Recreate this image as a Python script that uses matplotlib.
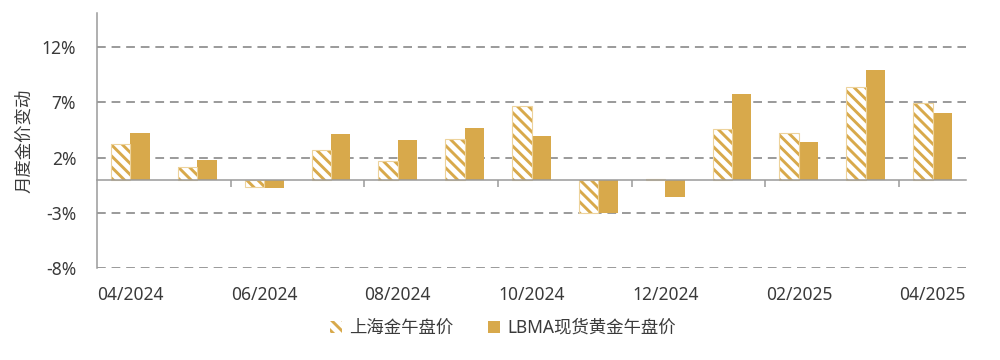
import matplotlib
matplotlib.use("Agg")
import matplotlib.pyplot as plt
from matplotlib.patches import Patch
import numpy as np

months = ["04/2024", "05/2024", "06/2024", "07/2024", "08/2024", "09/2024", "10/2024",
          "11/2024", "12/2024", "01/2025", "02/2025", "03/2025", "04/2025"]
shanghai = [3.25, 1.15, -0.7, 2.65, 1.7, 3.65, 6.7, -3.0, 0.05, 4.55, 4.27, 8.4, 6.95]
lbma = [4.2, 1.8, -0.75, 4.1, 3.6, 4.65, 3.95, -3.0, -1.6, 7.8, 3.4, 9.95, 6.0]
yticks = [-8, -3, 2, 7, 12]
series_names = ["上海金午盘价", "LBMA现货黄金午盘价"]

GOLD = "#D8A94B"
EDGE = "#EDD39C"
GRID = "#9A9A9A"
TEXT = "#3A3A3A"

plt.rcParams['font.family'] = ['Noto Sans', 'Noto Sans CJK SC', 'DejaVu Sans']
plt.rcParams['hatch.linewidth'] = 2.1

fig = plt.figure(figsize=(10, 3.6), dpi=100)
ax = fig.add_axes([0.097, 0.2556, 0.869, 0.7083])

x = np.arange(len(months))
w = 0.29
ax.bar(x - 0.145, shanghai, width=w, facecolor="white", edgecolor=GOLD,
       hatch="\\\\\\", linewidth=0, zorder=3)
ax.bar(x - 0.145, shanghai, width=w, facecolor="none", edgecolor=EDGE,
       linewidth=0.8, zorder=3.5)
ax.bar(x + 0.145, lbma, width=w, color=GOLD, linewidth=0, zorder=3)

ax.set_xlim(-0.5, len(months) - 0.5)
ax.set_ylim(-8, 15.1)

for yv in yticks:
    ax.axhline(yv, color=GRID, linewidth=1.4, linestyle=(0, (4.5, 3)), zorder=1)

ax.set_yticks(yticks)
ax.set_yticklabels([f"{v}%" for v in yticks], fontsize=12.5, color=TEXT)
ax.tick_params(axis='y', length=0, pad=15)
ax.set_ylabel("月度金价变动", fontsize=12.5, color=TEXT, labelpad=6)

for s in ['top', 'right']:
    ax.spines[s].set_visible(False)
ax.spines['left'].set_color(GRID)
ax.spines['left'].set_linewidth(1.1)
ax.spines['bottom'].set_position(('data', 0))
ax.spines['bottom'].set_color(GRID)
ax.spines['bottom'].set_linewidth(1.1)
ax.spines['bottom'].set_zorder(4)

ax.set_xticks([])
ax.set_xticks(np.arange(1.5, len(months) - 1, 2), minor=True)
ax.tick_params(axis='x', which='minor', length=5, color=GRID, width=1.1, labelbottom=False)

sec = ax.secondary_xaxis('bottom')
sec.set_xticks(x[::2])
sec.set_xticklabels(months[::2], fontsize=12.5, color=TEXT)
sec.tick_params(length=0, pad=13)
sec.spines['bottom'].set_visible(False)

handles = [Patch(facecolor="white", edgecolor=GOLD, hatch="\\\\\\", linewidth=0),
           Patch(facecolor=GOLD, linewidth=0)]
fig.legend(handles, series_names, loc='center', bbox_to_anchor=(0.503, 0.089), ncol=2,
           frameon=False, fontsize=12.5, handlelength=0.7, handleheight=0.7,
           handletextpad=0.4, columnspacing=2.0, labelcolor=TEXT)

fig.savefig("out.png", dpi=100, facecolor="white")
